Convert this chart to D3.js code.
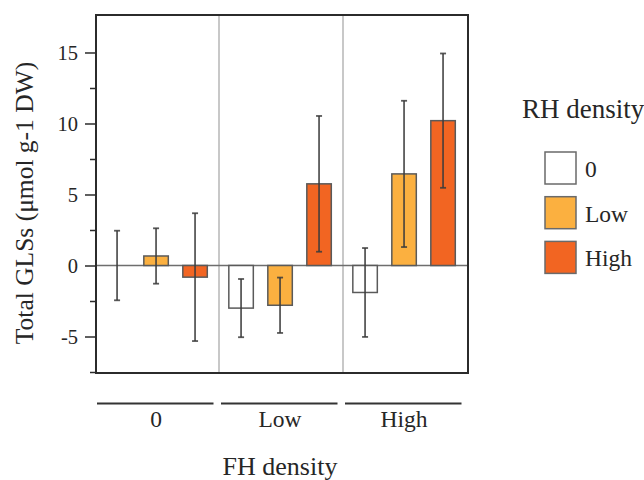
<!DOCTYPE html>
<html>
<head>
<meta charset="utf-8">
<script src="https://cdn.jsdelivr.net/npm/d3@7"></script>
<style>
  html, body { margin: 0; padding: 0; background: #fff; }
  svg { display: block; font-family: "Liberation Serif", "Times New Roman", serif; }
</style>
</head>
<body>
<svg id="chart" width="644" height="480"></svg>
<script>
// ---- data ----
const fhLevels = ["0", "Low", "High"];          // FH density groups (x axis)
const rhLevels = ["0", "Low", "High"];          // RH density series (legend)
const meanFH0    = [0, 0.67, -0.82];
const meanFHLow  = [-3.0, -2.8, 5.75];
const meanFHHigh = [-1.9, 6.45, 10.2];
const errFH0     = [2.45, 1.95, 4.5];
const errFHLow   = [2.05, 1.95, 4.78];
const errFHHigh  = [3.13, 5.15, 4.73];
const yTicks = [-5, 0, 5, 10, 15];
const yMinorTicks = [-7.5, -2.5, 2.5, 7.5, 12.5];
const colors = ["#ffffff", "#fbb040", "#f26522"];

const means = [meanFH0, meanFHLow, meanFHHigh];
const errs = [errFH0, errFHLow, errFHHigh];
const rows = [];
fhLevels.forEach((fh, i) => rhLevels.forEach((rh, j) => {
  rows.push({ fh, rh, j, mean: means[i][j], err: errs[i][j] });
}));

// ---- layout ----
const svg = d3.select("#chart");
const L = 96, R = 468, T = 15, B = 373;
const textColor = "#262626";

const y = d3.scaleLinear().domain([-7.57, 17.64]).range([B, T]);
const x0 = d3.scaleBand().domain(fhLevels).range([L, R]).padding(0);
const x1 = d3.scaleBand().domain(rhLevels).range([0, x0.bandwidth()])
  .paddingInner(0.372).paddingOuter(0.276).align(0.41);
const color = d3.scaleOrdinal().domain(rhLevels).range(colors);

// group separators
svg.selectAll("line.sep").data(fhLevels.slice(1)).join("line")
  .attr("class", "sep")
  .attr("x1", d => x0(d) - 1).attr("x2", d => x0(d) - 1)
  .attr("y1", T).attr("y2", B)
  .attr("stroke", "#c8c8c8").attr("stroke-width", 2);

// zero line
svg.append("line")
  .attr("x1", L).attr("x2", R).attr("y1", y(0)).attr("y2", y(0))
  .attr("stroke", "#6e6e6e").attr("stroke-width", 1.5);

// bars
svg.selectAll("rect.bar").data(rows.filter(d => d.mean !== 0)).join("rect")
  .attr("class", "bar")
  .attr("x", d => x0(d.fh) + x1(d.rh))
  .attr("width", x1.bandwidth())
  .attr("y", d => y(Math.max(0, d.mean)))
  .attr("height", d => Math.abs(y(d.mean) - y(0)))
  .attr("fill", d => color(d.rh))
  .attr("stroke", "#5a5a5a").attr("stroke-width", 1.5);

// error bars
const eb = svg.append("g").attr("stroke", "#3c3c3c").attr("stroke-opacity", 0.85).attr("stroke-width", 1.8);
rows.forEach(d => {
  const cx = x0(d.fh) + x1(d.rh) + x1.bandwidth() / 2;
  eb.append("line").attr("x1", cx).attr("x2", cx)
    .attr("y1", y(d.mean + d.err)).attr("y2", y(d.mean - d.err));
  [d.mean + d.err, d.mean - d.err].forEach(v => {
    eb.append("line").attr("x1", cx - 3).attr("x2", cx + 3)
      .attr("y1", y(v)).attr("y2", y(v));
  });
});

// frame
svg.append("rect")
  .attr("x", L).attr("y", T).attr("width", R - L).attr("height", B - T)
  .attr("fill", "none").attr("stroke", "#2b2b2b").attr("stroke-width", 2);

// y axis
const yAxis = svg.append("g").attr("transform", `translate(${L},0)`)
  .call(d3.axisLeft(y).tickValues(yTicks).tickSize(11).tickPadding(7).tickFormat(d => String(d)));
yAxis.select(".domain").remove();
yAxis.selectAll(".tick line").attr("stroke", "#2b2b2b").attr("stroke-width", 1.5);
yAxis.selectAll(".tick text").attr("font-size", 20.5).attr("fill", textColor)
  .attr("font-family", "Liberation Serif, Times New Roman, serif");

const yMinor = svg.append("g").attr("transform", `translate(${L},0)`)
  .call(d3.axisLeft(y).tickValues(yMinorTicks).tickSize(6).tickFormat(""));
yMinor.select(".domain").remove();
yMinor.selectAll(".tick line").attr("stroke", "#2b2b2b").attr("stroke-width", 1.5);

// y title
svg.append("text")
  .attr("transform", "translate(33,203) rotate(-90)")
  .attr("text-anchor", "middle")
  .attr("font-size", 25.5).attr("fill", textColor)
  .text("Total GLSs (μmol g-1 DW)");

// x group brackets and labels
svg.selectAll("line.brk").data(fhLevels).join("line")
  .attr("class", "brk")
  .attr("x1", d => x0(d) + 1).attr("x2", d => x0(d) + x0.bandwidth() - 6.5)
  .attr("y1", 403.5).attr("y2", 403.5)
  .attr("stroke", "#333").attr("stroke-width", 2);

svg.selectAll("text.cat").data(fhLevels).join("text")
  .attr("class", "cat")
  .attr("x", d => x0(d) + x0.bandwidth() / 2 - 2)
  .attr("y", 427)
  .attr("text-anchor", "middle")
  .attr("font-size", 23.5).attr("fill", textColor)
  .text(d => d);

svg.append("text")
  .attr("x", 280).attr("y", 475)
  .attr("text-anchor", "middle")
  .attr("font-size", 26).attr("fill", textColor)
  .text("FH density");

// legend
svg.append("text")
  .attr("x", 522).attr("y", 118)
  .attr("font-size", 27).attr("fill", textColor)
  .text("RH density");

const lg = svg.selectAll("g.leg").data(rhLevels).join("g")
  .attr("class", "leg")
  .attr("transform", (d, i) => `translate(545,${152 + i * 44.7})`);
lg.append("rect")
  .attr("width", 31).attr("height", 32)
  .attr("fill", d => color(d))
  .attr("stroke", "#6a6a6a").attr("stroke-width", 1.5);
lg.append("text")
  .attr("x", 40).attr("y", 25)
  .attr("font-size", 23.5).attr("fill", textColor)
  .text(d => d);
</script>
</body>
</html>
